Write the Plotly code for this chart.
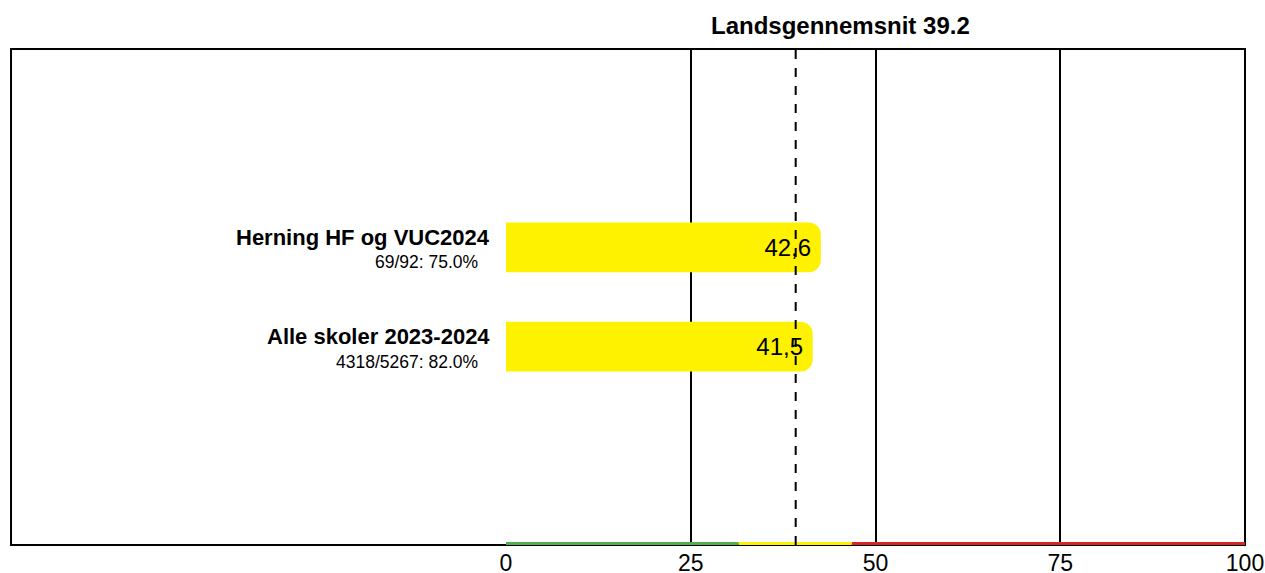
import plotly.graph_objects as go

categories = ["Herning HF og VUC2024", "Alle skoler 2023-2024"]
subtitles = ["69/92: 75.0%", "4318/5267: 82.0%"]
values = [42.6, 41.5]
positions = [1, 0]
national_avg = 39.2
title_text = "Landsgennemsnit 39.2"
tick_vals = [0, 25, 50, 75, 100]
band_edges = [0, 31.5, 46.8, 100]
band_colors = ["#4caf50", "#fff200", "#d62728"]

FONT = "Liberation Sans, Arial, Helvetica, sans-serif"

fig = go.Figure()
fig.add_trace(go.Bar(
    x=values, y=positions, orientation="h", width=0.5,
    marker=dict(color="#fff200", line=dict(width=0)),
    texttemplate="%{x:.1f} ", textposition="inside", insidetextanchor="end",
    textfont=dict(size=24, color="black", family=FONT),
    hoverinfo="skip", showlegend=False,
))

shapes = []
# outer box
shapes.append(dict(type="rect", xref="paper", yref="paper", x0=-0.6698, x1=1, y0=0, y1=1,
                   line=dict(color="black", width=2), fillcolor="rgba(0,0,0,0)", layer="below"))
# colored bands along bottom
for i, c in enumerate(band_colors):
    shapes.append(dict(type="line", xref="x", yref="paper", x0=band_edges[i], x1=band_edges[i + 1],
                       y0=0.003, y1=0.003, line=dict(color=c, width=3), layer="above"))
# national average dashed line
shapes.append(dict(type="line", xref="x", yref="paper", x0=national_avg, x1=national_avg, y0=0, y1=1,
                   line=dict(color="black", width=2, dash="dash"), layer="above"))

annotations = []
for cat, sub, p in zip(categories, subtitles, positions):
    annotations.append(dict(xref="paper", yref="y", x=-0.019, y=p, xanchor="right", yanchor="middle",
                            yshift=10, align="right", showarrow=False, text=f"<b>{cat}</b>",
                            font=dict(size=22, color="black", family=FONT)))
    annotations.append(dict(xref="paper", yref="y", x=-0.035, y=p, xanchor="right", yanchor="middle",
                            yshift=-15, align="right", showarrow=False, text=sub,
                            font=dict(size=17.5, color="black", family=FONT)))
annotations.append(dict(xref="paper", yref="paper", x=0.452, y=1, yshift=24, xanchor="center",
                        yanchor="middle", showarrow=False, text=f"<b>{title_text}</b>",
                        font=dict(size=24, color="black", family=FONT)))

fig.update_layout(
    width=1265, height=573,
    margin=dict(l=506, r=20, t=49, b=28, pad=0, autoexpand=False),
    plot_bgcolor="white", paper_bgcolor="white",
    separators=",.",
    barcornerradius=12,
    font=dict(family=FONT, color="black"),
    xaxis=dict(range=[0, 100], tickvals=tick_vals, showgrid=True, gridcolor="black", gridwidth=2,
               zeroline=False, showline=False, ticks="", tickfont=dict(size=23, color="black"),
               ticklabelstandoff=2, automargin=False, fixedrange=True),
    yaxis=dict(range=[-2, 3], showgrid=False, zeroline=False, showticklabels=False, showline=False,
               automargin=False, fixedrange=True),
    shapes=shapes, annotations=annotations,
)

fig.write_html("out.html", config={"displayModeBar": False},
               post_script="document.body.style.margin='0';document.body.style.overflow='hidden';")
